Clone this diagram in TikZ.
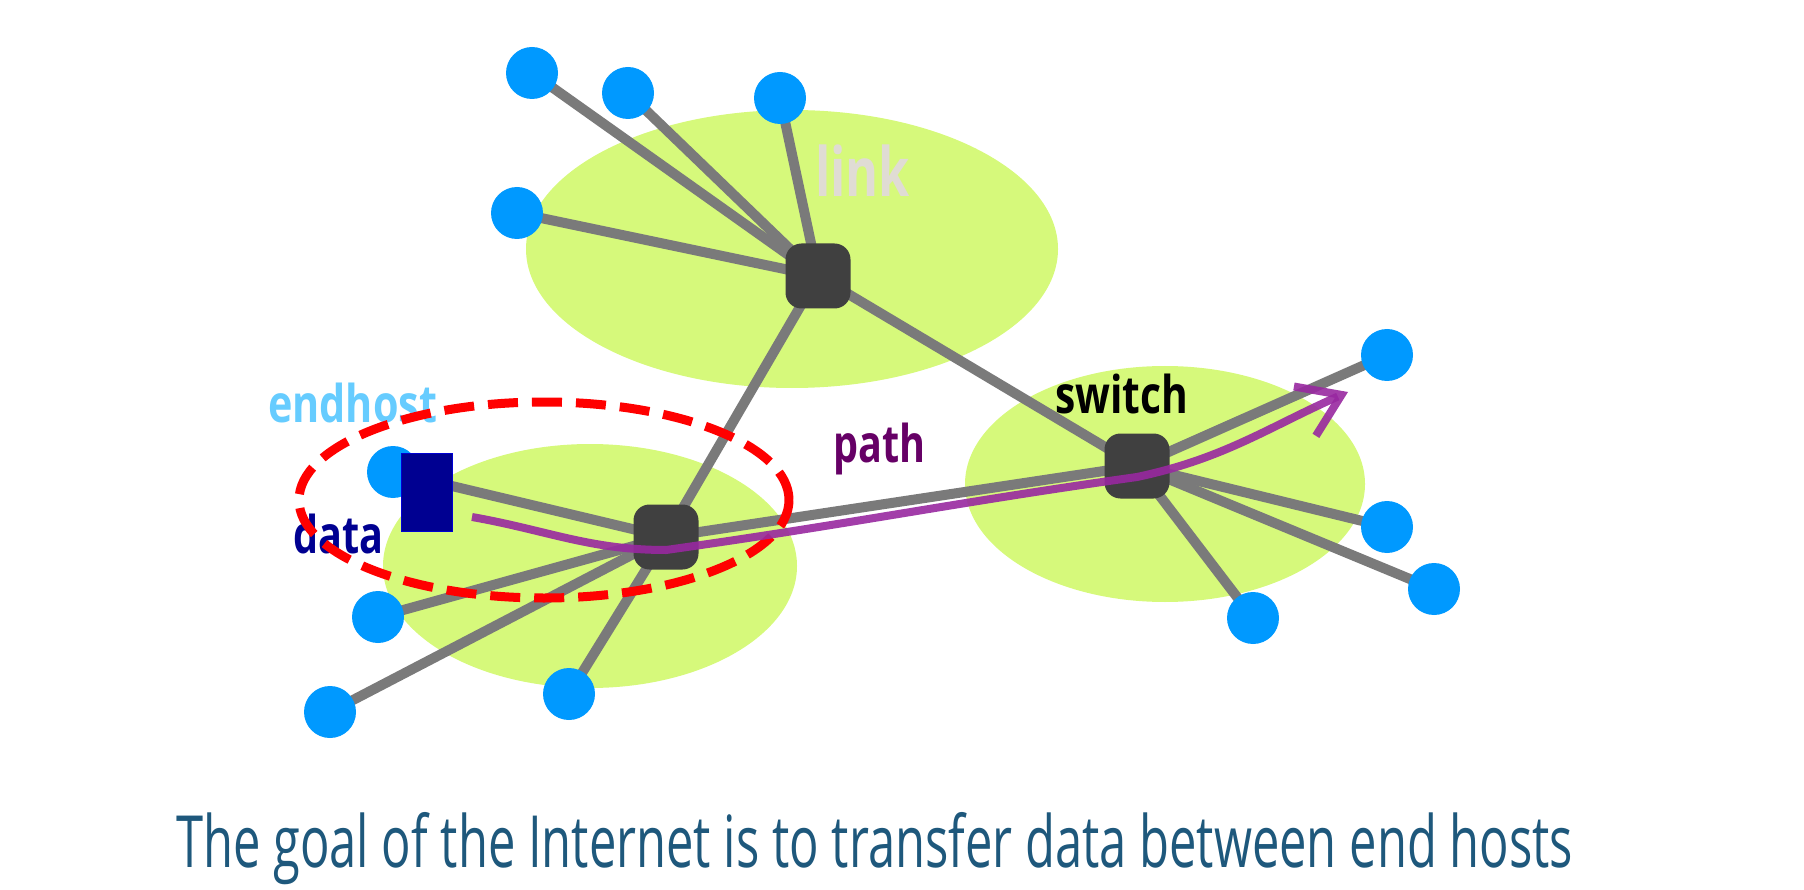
\documentclass[tikz,border=0pt]{standalone}
\usepackage{fontspec}
\setmainfont{Open Sans}
\usepackage{graphicx}
\usetikzlibrary{shapes, arrows.meta}
\definecolor{cloudgreen}{RGB}{214,249,123}
\definecolor{hostblue}{RGB}{0,153,255}
\definecolor{boxgray}{RGB}{64,64,64}
\definecolor{wiregray}{RGB}{122,122,122}
\definecolor{datanavy}{RGB}{0,0,145}
\definecolor{hostlabel}{RGB}{102,204,255}
\definecolor{pathlabel}{RGB}{102,0,102}
\definecolor{linklabel}{RGB}{224,220,212}
\definecolor{trailpurple}{RGB}{152,40,160}
\definecolor{captionblue}{RGB}{30,88,124}
\pgfdeclarelayer{clouds}
\pgfdeclarelayer{wires}
\pgfsetlayers{clouds,wires,main}
\tikzstyle{cloud}=[ellipse, fill=cloudgreen, inner sep=0pt]
\tikzstyle{host}=[circle, fill=hostblue, inner sep=0pt, minimum size=52pt]
\tikzstyle{switchbox}=[rectangle, rounded corners=16pt, fill=boxgray, inner sep=0pt, minimum size=65pt]
\tikzstyle{wire}=[line width=10pt, draw=wiregray]
\tikzstyle{lbl}=[inner sep=0pt, anchor=base west, font=\fontsize{52}{60}\selectfont\bfseries]
\tikzstyle{trail}=[line width=8pt, draw=trailpurple, opacity=0.9, -{Straight Barb[length=40pt, width=54pt]}]

\begin{document}
\begin{tikzpicture}[x=1pt, y=-1pt]
	\useasboundingbox (0,0) rectangle (1804,890);
	\begin{pgfonlayer}{clouds}
	\node		[cloud, minimum width=532pt, minimum height=278pt]	(N1) at (792,249) {};
	\node		[cloud, minimum width=414pt, minimum height=244pt]	(N2) at (590,566) {};
	\node		[cloud, minimum width=400pt, minimum height=236pt]	(N3) at (1165,484) {};
	\end{pgfonlayer}
	% switches
	\node		[switchbox]	(A) at (818,276) {};
	\node		[switchbox]	(B) at (666,537) {};
	\node		[switchbox]	(C) at (1137,466) {};
	% end hosts
	\node		[host]	(A1) at (532,73) {};
	\node		[host]	(A2) at (628,93) {};
	\node		[host]	(A3) at (780,98) {};
	\node		[host]	(A4) at (517,213) {};
	\node		[host]	(B1) at (393,472) {};
	\node		[host]	(B2) at (378,617) {};
	\node		[host]	(B3) at (330,712) {};
	\node		[host]	(B4) at (569,694) {};
	\node		[host]	(C1) at (1387,355) {};
	\node		[host]	(C2) at (1387,527) {};
	\node		[host]	(C3) at (1434,589) {};
	\node		[host]	(C4) at (1253,618) {};
	\begin{pgfonlayer}{wires}
	\foreach \s in {A,B,C}
		\foreach \i in {1,2,3,4}
			\draw[wire] (\s.center)--(\s\i.center);
	\draw[wire] (A.center)--(B.center);
	\draw[wire] (A.center)--(C.center);
	\draw[wire] (B.center)--(C.center);
	\end{pgfonlayer}
	% data and labels
	\node		[fill=datanavy, draw=blue!60!datanavy, inner sep=0pt, minimum width=51pt, minimum height=78pt]	(D) at (427,492) {};
	\node		[lbl, text=hostlabel]	(L1) at (268,422) {\resizebox{169pt}{\height}{endhost}};
	\node		[lbl, text=datanavy]	(L2) at (293,553) {\resizebox{90pt}{\height}{data}};
	\node		[lbl, text=pathlabel]	(L3) at (833,462) {\resizebox{92pt}{\height}{path}};
	\node		[lbl, text=black]	(L4) at (1055,413) {\resizebox{133pt}{\height}{switch}};
	\node		[lbl, text=linklabel, font=\fontsize{68}{72}\selectfont\bfseries]	(L5) at (815,197) {\resizebox{95pt}{\height}{link}};
	\node		[ellipse, draw=red, line width=9pt, dash pattern=on 30pt off 14pt, minimum width=490pt, minimum height=196pt]	(R) at (544,500) {};
	% path
	\coordinate (P0) at (472,517);
	\coordinate (P1) at (1348,392);
	\draw[trail] (P0) to[out=-10, in=180] ([yshift=-13pt]B.center) to[out=8, in=188] ([yshift=-11pt]C.center) to[out=12, in=204] (P1);
	% caption
	\node		[inner sep=0pt, anchor=base west, text=captionblue, font=\fontsize{72}{80}\selectfont]	(T) at (176,867) {\resizebox{1397pt}{\height}{The goal of the Internet is to transfer data between end hosts}};
\end{tikzpicture}
\end{document}
